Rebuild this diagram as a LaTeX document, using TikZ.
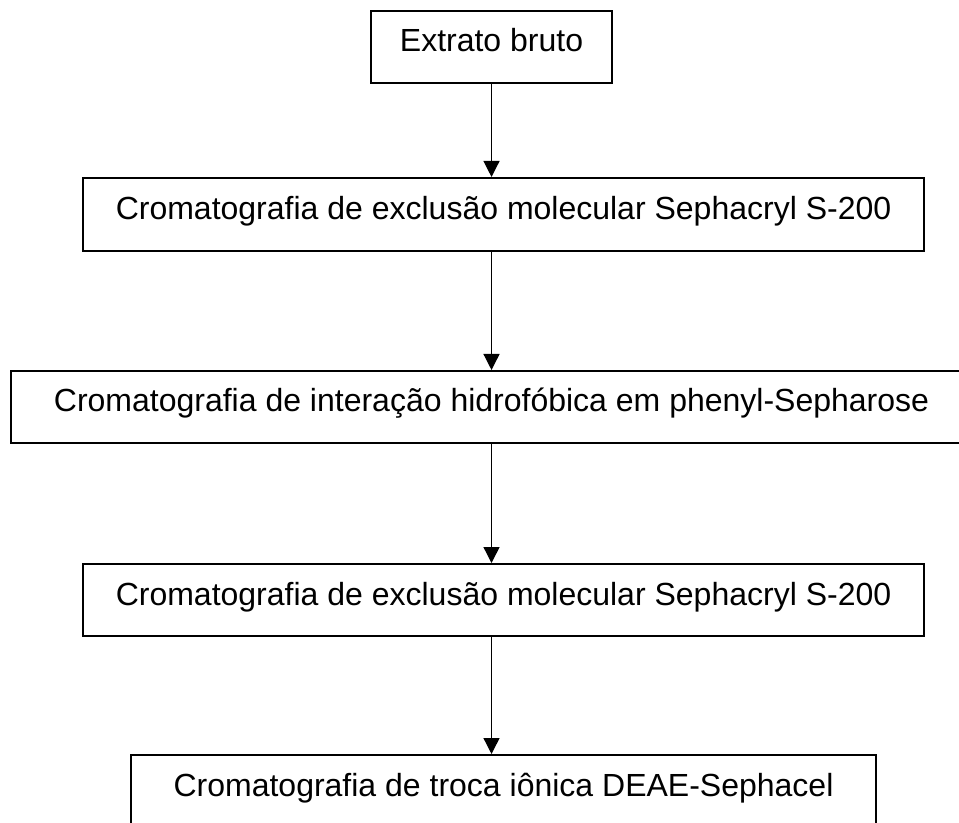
\documentclass[tikz,border=0pt]{standalone}
\usepackage{fontspec}
\setmainfont{Liberation Sans}
\usetikzlibrary{arrows.meta}

\tikzstyle{step_box}=[rectangle,draw=black,line width=1pt,inner sep=0pt,minimum height=1.265cm,text height=12pt,text depth=7pt,font=\fontsize{16}{19}\selectfont]
\tikzstyle{flow_arrow}=[line width=0.65pt,-{Triangle[width=8pt,length=8pt]}]

\begin{document}
\begin{tikzpicture}

\useasboundingbox (0,0) rectangle (16.852,14.445);
\clip (0,0) rectangle (16.852,14.445);

\node [step_box,minimum width=4.235cm] (extrato) at (8.637,13.619) {Extrato bruto};
\node [step_box,minimum width=14.779cm,minimum height=1.283cm] (sephacryl1) at (8.848,10.676) {Cromatografia de exclusão molecular Sephacryl S-200};
\node [step_box,minimum width=16.888cm] (phenyl) at (8.637,7.293) {Cromatografia de interação hidrofóbica em phenyl-Sepharose};
\node [step_box,minimum width=14.779cm] (sephacryl2) at (8.848,3.901) {Cromatografia de exclusão molecular Sephacryl S-200};
\node [step_box,minimum width=13.092cm] (deae) at (8.848,0.545) {Cromatografia de troca iônica DEAE-Sephacel};

\draw[flow_arrow] (extrato.south) -- (extrato.south |- sephacryl1.north);

\draw[flow_arrow] (extrato.south |- sephacryl1.south) -- (extrato.south |- phenyl.north);

\draw[flow_arrow] (extrato.south |- phenyl.south) -- (extrato.south |- sephacryl2.north);

\draw[flow_arrow] (extrato.south |- sephacryl2.south) -- (extrato.south |- deae.north);

\end{tikzpicture}
\end{document}
